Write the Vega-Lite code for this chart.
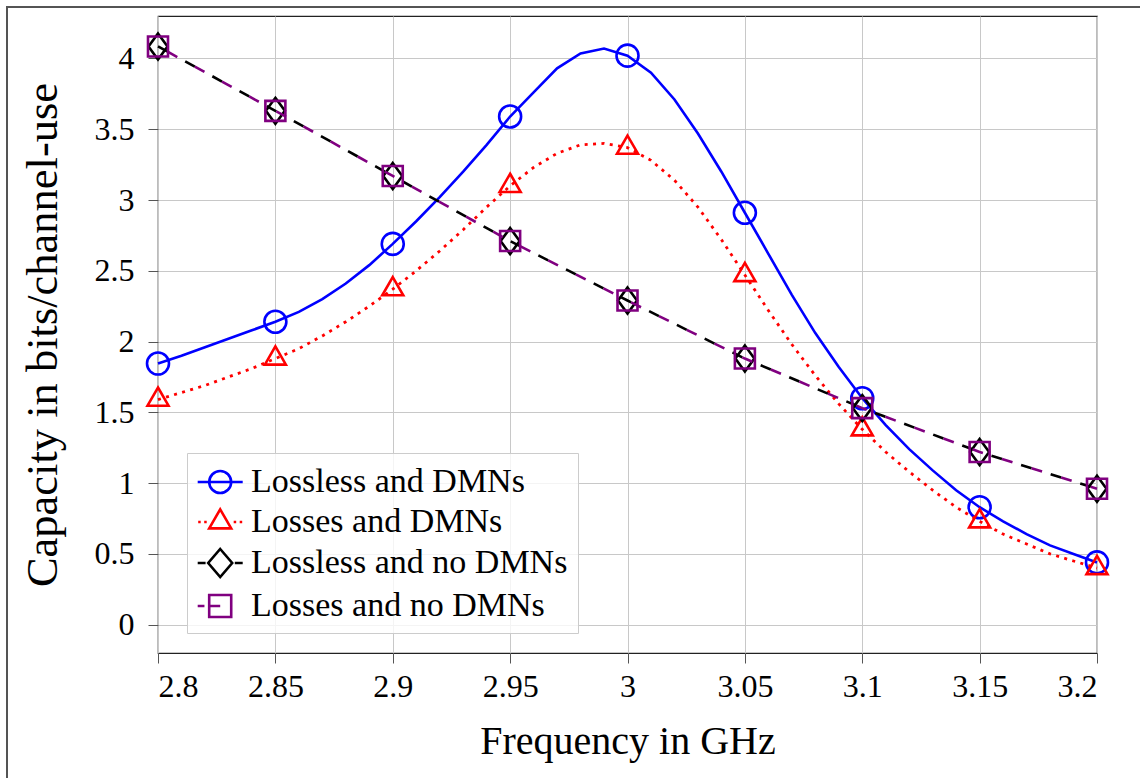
{
  "$schema": "https://vega.github.io/schema/vega-lite/v6.json",
  "width": 939,
  "height": 637,
  "autosize": {"type": "none"},
  "padding": {"left": 158, "top": 16, "right": 43, "bottom": 125},
  "background": "white",
  "config": {
    "font": "Liberation Serif",
    "view": {"stroke": "#222222", "strokeWidth": 1.2},
    "axis": {
      "labelFont": "Liberation Serif",
      "titleFont": "Liberation Serif",
      "labelColor": "#000000",
      "titleColor": "#000000",
      "titleFontWeight": "normal",
      "gridColor": "#c8c8c8",
      "gridWidth": 1,
      "tickColor": "#555555",
      "tickSize": 10,
      "tickWidth": 1,
      "domain": false
    },
    "legend": {
      "labelFont": "Liberation Serif"
    }
  },
  "datasets": {
    "curves": [
      {"f": 2.80, "c": 1.845, "s": "Lossless and DMNs", "m": true},
      {"f": 2.81, "c": 1.90, "s": "Lossless and DMNs", "m": false},
      {"f": 2.82, "c": 1.96, "s": "Lossless and DMNs", "m": false},
      {"f": 2.83, "c": 2.02, "s": "Lossless and DMNs", "m": false},
      {"f": 2.84, "c": 2.08, "s": "Lossless and DMNs", "m": false},
      {"f": 2.85, "c": 2.14, "s": "Lossless and DMNs", "m": true},
      {"f": 2.86, "c": 2.21, "s": "Lossless and DMNs", "m": false},
      {"f": 2.87, "c": 2.30, "s": "Lossless and DMNs", "m": false},
      {"f": 2.88, "c": 2.41, "s": "Lossless and DMNs", "m": false},
      {"f": 2.89, "c": 2.54, "s": "Lossless and DMNs", "m": false},
      {"f": 2.90, "c": 2.69, "s": "Lossless and DMNs", "m": true},
      {"f": 2.91, "c": 2.85, "s": "Lossless and DMNs", "m": false},
      {"f": 2.92, "c": 3.02, "s": "Lossless and DMNs", "m": false},
      {"f": 2.93, "c": 3.20, "s": "Lossless and DMNs", "m": false},
      {"f": 2.94, "c": 3.39, "s": "Lossless and DMNs", "m": false},
      {"f": 2.95, "c": 3.59, "s": "Lossless and DMNs", "m": true},
      {"f": 2.96, "c": 3.76, "s": "Lossless and DMNs", "m": false},
      {"f": 2.97, "c": 3.93, "s": "Lossless and DMNs", "m": false},
      {"f": 2.98, "c": 4.035, "s": "Lossless and DMNs", "m": false},
      {"f": 2.99, "c": 4.07, "s": "Lossless and DMNs", "m": false},
      {"f": 3.00, "c": 4.02, "s": "Lossless and DMNs", "m": true},
      {"f": 3.01, "c": 3.90, "s": "Lossless and DMNs", "m": false},
      {"f": 3.02, "c": 3.71, "s": "Lossless and DMNs", "m": false},
      {"f": 3.03, "c": 3.47, "s": "Lossless and DMNs", "m": false},
      {"f": 3.04, "c": 3.20, "s": "Lossless and DMNs", "m": false},
      {"f": 3.05, "c": 2.91, "s": "Lossless and DMNs", "m": true},
      {"f": 3.06, "c": 2.62, "s": "Lossless and DMNs", "m": false},
      {"f": 3.07, "c": 2.33, "s": "Lossless and DMNs", "m": false},
      {"f": 3.08, "c": 2.06, "s": "Lossless and DMNs", "m": false},
      {"f": 3.09, "c": 1.82, "s": "Lossless and DMNs", "m": false},
      {"f": 3.10, "c": 1.60, "s": "Lossless and DMNs", "m": true},
      {"f": 3.11, "c": 1.41, "s": "Lossless and DMNs", "m": false},
      {"f": 3.12, "c": 1.24, "s": "Lossless and DMNs", "m": false},
      {"f": 3.13, "c": 1.09, "s": "Lossless and DMNs", "m": false},
      {"f": 3.14, "c": 0.95, "s": "Lossless and DMNs", "m": false},
      {"f": 3.15, "c": 0.83, "s": "Lossless and DMNs", "m": true},
      {"f": 3.16, "c": 0.73, "s": "Lossless and DMNs", "m": false},
      {"f": 3.17, "c": 0.64, "s": "Lossless and DMNs", "m": false},
      {"f": 3.18, "c": 0.56, "s": "Lossless and DMNs", "m": false},
      {"f": 3.19, "c": 0.50, "s": "Lossless and DMNs", "m": false},
      {"f": 3.20, "c": 0.44, "s": "Lossless and DMNs", "m": true},

      {"f": 2.80, "c": 1.59, "s": "Losses and DMNs", "m": true},
      {"f": 2.81, "c": 1.64, "s": "Losses and DMNs", "m": false},
      {"f": 2.82, "c": 1.69, "s": "Losses and DMNs", "m": false},
      {"f": 2.83, "c": 1.75, "s": "Losses and DMNs", "m": false},
      {"f": 2.84, "c": 1.81, "s": "Losses and DMNs", "m": false},
      {"f": 2.85, "c": 1.88, "s": "Losses and DMNs", "m": true},
      {"f": 2.86, "c": 1.95, "s": "Losses and DMNs", "m": false},
      {"f": 2.87, "c": 2.04, "s": "Losses and DMNs", "m": false},
      {"f": 2.88, "c": 2.14, "s": "Losses and DMNs", "m": false},
      {"f": 2.89, "c": 2.25, "s": "Losses and DMNs", "m": false},
      {"f": 2.90, "c": 2.37, "s": "Losses and DMNs", "m": true},
      {"f": 2.91, "c": 2.50, "s": "Losses and DMNs", "m": false},
      {"f": 2.92, "c": 2.64, "s": "Losses and DMNs", "m": false},
      {"f": 2.93, "c": 2.79, "s": "Losses and DMNs", "m": false},
      {"f": 2.94, "c": 2.95, "s": "Losses and DMNs", "m": false},
      {"f": 2.95, "c": 3.10, "s": "Losses and DMNs", "m": true},
      {"f": 2.96, "c": 3.23, "s": "Losses and DMNs", "m": false},
      {"f": 2.97, "c": 3.33, "s": "Losses and DMNs", "m": false},
      {"f": 2.98, "c": 3.39, "s": "Losses and DMNs", "m": false},
      {"f": 2.99, "c": 3.40, "s": "Losses and DMNs", "m": false},
      {"f": 3.00, "c": 3.37, "s": "Losses and DMNs", "m": true},
      {"f": 3.01, "c": 3.28, "s": "Losses and DMNs", "m": false},
      {"f": 3.02, "c": 3.14, "s": "Losses and DMNs", "m": false},
      {"f": 3.03, "c": 2.95, "s": "Losses and DMNs", "m": false},
      {"f": 3.04, "c": 2.72, "s": "Losses and DMNs", "m": false},
      {"f": 3.05, "c": 2.47, "s": "Losses and DMNs", "m": true},
      {"f": 3.06, "c": 2.22, "s": "Losses and DMNs", "m": false},
      {"f": 3.07, "c": 1.98, "s": "Losses and DMNs", "m": false},
      {"f": 3.08, "c": 1.76, "s": "Losses and DMNs", "m": false},
      {"f": 3.09, "c": 1.56, "s": "Losses and DMNs", "m": false},
      {"f": 3.10, "c": 1.38, "s": "Losses and DMNs", "m": true},
      {"f": 3.11, "c": 1.22, "s": "Losses and DMNs", "m": false},
      {"f": 3.12, "c": 1.08, "s": "Losses and DMNs", "m": false},
      {"f": 3.13, "c": 0.95, "s": "Losses and DMNs", "m": false},
      {"f": 3.14, "c": 0.83, "s": "Losses and DMNs", "m": false},
      {"f": 3.15, "c": 0.73, "s": "Losses and DMNs", "m": true},
      {"f": 3.16, "c": 0.64, "s": "Losses and DMNs", "m": false},
      {"f": 3.17, "c": 0.57, "s": "Losses and DMNs", "m": false},
      {"f": 3.18, "c": 0.50, "s": "Losses and DMNs", "m": false},
      {"f": 3.19, "c": 0.45, "s": "Losses and DMNs", "m": false},
      {"f": 3.20, "c": 0.40, "s": "Losses and DMNs", "m": true},

      {"f": 2.80, "c": 4.085, "s": "Lossless and no DMNs", "m": true},
      {"f": 2.85, "c": 3.63, "s": "Lossless and no DMNs", "m": true},
      {"f": 2.90, "c": 3.17, "s": "Lossless and no DMNs", "m": true},
      {"f": 2.95, "c": 2.71, "s": "Lossless and no DMNs", "m": true},
      {"f": 3.00, "c": 2.29, "s": "Lossless and no DMNs", "m": true},
      {"f": 3.05, "c": 1.88, "s": "Lossless and no DMNs", "m": true},
      {"f": 3.10, "c": 1.53, "s": "Lossless and no DMNs", "m": true},
      {"f": 3.15, "c": 1.22, "s": "Lossless and no DMNs", "m": true},
      {"f": 3.20, "c": 0.96, "s": "Lossless and no DMNs", "m": true},

      {"f": 2.80, "c": 4.085, "s": "Losses and no DMNs", "m": true},
      {"f": 2.85, "c": 3.63, "s": "Losses and no DMNs", "m": true},
      {"f": 2.90, "c": 3.17, "s": "Losses and no DMNs", "m": true},
      {"f": 2.95, "c": 2.71, "s": "Losses and no DMNs", "m": true},
      {"f": 3.00, "c": 2.29, "s": "Losses and no DMNs", "m": true},
      {"f": 3.05, "c": 1.88, "s": "Losses and no DMNs", "m": true},
      {"f": 3.10, "c": 1.53, "s": "Losses and no DMNs", "m": true},
      {"f": 3.15, "c": 1.22, "s": "Losses and no DMNs", "m": true},
      {"f": 3.20, "c": 0.96, "s": "Losses and no DMNs", "m": true}
    ]
  },
  "data": {"name": "curves"},
  "encoding": {
    "x": {
      "field": "f",
      "type": "quantitative",
      "scale": {"domain": [2.8, 3.2], "nice": false, "zero": false},
      "axis": {
        "title": "Frequency in GHz",
        "values": [2.8, 2.85, 2.9, 2.95, 3.0, 3.05, 3.1, 3.15, 3.2],
        "format": "~g",
        "labelFont": "Liberation Serif",
        "labelFontSize": 32,
        "labelPadding": 8,
        "titleFont": "Liberation Serif",
        "titleFontSize": 40,
        "titlePadding": 19
      }
    },
    "y": {
      "field": "c",
      "type": "quantitative",
      "scale": {"domain": [-0.2, 4.3], "nice": false, "zero": false},
      "axis": {
        "title": "Capacity in bits/channel-use",
        "values": [0, 0.5, 1, 1.5, 2, 2.5, 3, 3.5, 4],
        "format": "~g",
        "labelFont": "Liberation Serif",
        "labelFontSize": 32,
        "labelPadding": 14,
        "titleFont": "Liberation Serif",
        "titleFontSize": 44.5,
        "titlePadding": 29
      }
    }
  },
  "layer": [
    {
      "mark": {"type": "rect", "filled": false, "color": "#555555", "strokeWidth": 1.2, "clip": false},
      "encoding": {
        "x": {"datum": 2.7357},
        "x2": {"datum": 3.3},
        "y": {"datum": 4.365},
        "y2": {"datum": -1.5}
      }
    },
    {
      "transform": [{"filter": "datum.s === 'Lossless and DMNs'"}],
      "mark": {"type": "line", "color": "#0000ff", "strokeWidth": 2.6}
    },
    {
      "transform": [{"filter": "datum.s === 'Lossless and DMNs' && datum.m"}],
      "mark": {"type": "point", "filled": false, "color": "#0000ff", "strokeWidth": 2.6, "shape": "circle", "size": 484, "opacity": 1}
    },
    {
      "transform": [{"filter": "datum.s === 'Losses and DMNs'"}],
      "mark": {"type": "line", "color": "#ff0000", "strokeWidth": 2.8, "strokeDash": [3, 5.4]}
    },
    {
      "transform": [{"filter": "datum.s === 'Losses and DMNs' && datum.m"}],
      "mark": {"type": "point", "filled": false, "color": "#ff0000", "strokeWidth": 2.6, "shape": "M0,-1.21L1.05,0.606L-1.05,0.606Z", "size": 400, "opacity": 1}
    },
    {
      "transform": [{"filter": "datum.s === 'Lossless and no DMNs'"}],
      "mark": {"type": "line", "color": "#000000", "strokeWidth": 2.6, "strokeDash": [11, 20]}
    },
    {
      "transform": [{"filter": "datum.s === 'Lossless and no DMNs' && datum.m"}],
      "mark": {"type": "point", "filled": false, "color": "#000000", "strokeWidth": 2.6, "shape": "M0,-1.3L0.95,0L0,1.3L-0.95,0Z", "size": 400, "opacity": 1}
    },
    {
      "transform": [{"filter": "datum.s === 'Losses and no DMNs'"}],
      "mark": {"type": "line", "color": "#800080", "strokeWidth": 2.6, "strokeDash": [11, 20], "strokeDashOffset": 20}
    },
    {
      "transform": [{"filter": "datum.s === 'Losses and no DMNs' && datum.m"}],
      "mark": {"type": "point", "filled": false, "color": "#800080", "strokeWidth": 2.6, "shape": "square", "size": 400, "opacity": 1}
    },
    {
      "transform": [{"filter": "datum.m"}],
      "mark": {"type": "point", "filled": false, "opacity": 0, "strokeWidth": 2.6, "size": 1225},
      "encoding": {
        "color": {
          "field": "s",
          "type": "nominal",
          "scale": {
            "domain": ["Lossless and DMNs", "Losses and DMNs", "Lossless and no DMNs", "Losses and no DMNs"],
            "range": ["#0000ff", "#ff0000", "#000000", "#800080"]
          },
          "legend": {
            "title": null,
            "orient": "none",
            "legendX": 29,
            "legendY": 437,
            "padding": 10,
            "labelFont": "Liberation Serif",
            "labelFontSize": 34,
            "labelColor": "#000000",
            "labelOffset": 16,
            "labelLimit": 1000,
            "rowPadding": 4,
            "symbolSize": 1225,
            "symbolStrokeWidth": 2.6,
            "symbolOpacity": 1,
            "symbolFillColor": "transparent",
            "strokeColor": "#cccccc",
            "fillColor": "rgba(255,255,255,0.8)"
          }
        },
        "shape": {
          "field": "s",
          "type": "nominal",
          "scale": {
            "domain": ["Lossless and DMNs", "Losses and DMNs", "Lossless and no DMNs", "Losses and no DMNs"],
            "range": [
              "M-1.046,0L1.526,0M0.869,0A0.629,0.629,0,1,1,-0.389,0A0.629,0.629,0,1,1,0.869,0",
              "M-1.017,0L-0.874,0M-0.674,0L-0.531,0M1.011,0L1.154,0M1.354,0L1.497,0M0.24,-0.726L0.869,0.363L-0.389,0.363Z",
              "M-1.046,0L-0.594,0M1.074,0L1.526,0M0.24,-0.8L0.926,0L0.24,0.8L-0.446,0Z",
              "M-1.046,0L-0.66,0M-0.389,0L0.24,0M-0.389,-0.629L0.869,-0.629L0.869,0.629L-0.389,0.629Z"
            ]
          },
          "legend": {
            "title": null,
            "orient": "none",
            "legendX": 29,
            "legendY": 437,
            "padding": 10,
            "labelFont": "Liberation Serif",
            "labelFontSize": 34,
            "labelColor": "#000000",
            "labelOffset": 16,
            "labelLimit": 1000,
            "rowPadding": 4,
            "symbolSize": 1225,
            "symbolStrokeWidth": 2.6,
            "symbolOpacity": 1,
            "symbolFillColor": "transparent",
            "strokeColor": "#cccccc",
            "fillColor": "rgba(255,255,255,0.8)"
          }
        }
      }
    }
  ]
}
